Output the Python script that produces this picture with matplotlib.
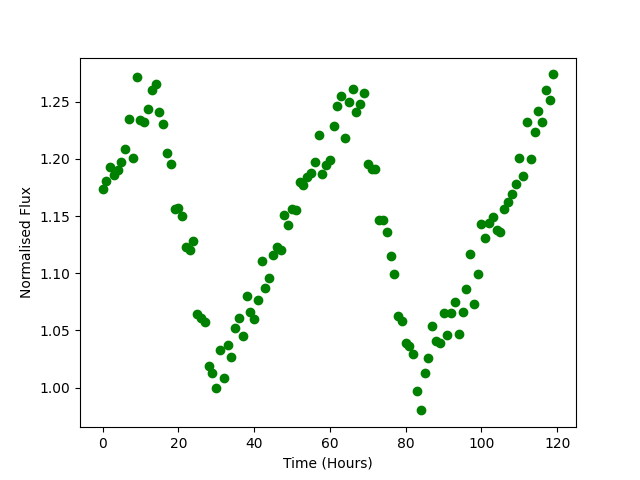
import matplotlib
matplotlib.use("Agg")
import matplotlib.pyplot as plt
import numpy as np

time_hours = list(range(120))
flux = [1.174, 1.181, 1.193, 1.186, 1.190, 1.197, 1.209, 1.235, 1.201, 1.272,
        1.234, 1.232, 1.244, 1.260, 1.266, 1.241, 1.231, 1.205, 1.196, 1.156,
        1.157, 1.150, 1.123, 1.120, 1.128, 1.064, 1.061, 1.057, 1.019, 1.013,
        1.000, 1.033, 1.008, 1.037, 1.027, 1.052, 1.061, 1.045, 1.080, 1.066,
        1.060, 1.077, 1.111, 1.087, 1.096, 1.116, 1.123, 1.120, 1.151, 1.142,
        1.156, 1.155, 1.180, 1.177, 1.184, 1.188, 1.197, 1.221, 1.187, 1.195,
        1.199, 1.229, 1.246, 1.255, 1.218, 1.250, 1.261, 1.241, 1.248, 1.258,
        1.196, 1.191, 1.191, 1.147, 1.147, 1.136, 1.115, 1.099, 1.063, 1.058,
        1.039, 1.036, 1.029, 0.997, 0.980, 1.013, 1.026, 1.054, 1.041, 1.039,
        1.065, 1.046, 1.065, 1.075, 1.047, 1.066, 1.086, 1.117, 1.073, 1.099,
        1.143, 1.131, 1.144, 1.149, 1.138, 1.136, 1.156, 1.162, 1.169, 1.178,
        1.201, 1.185, 1.232, 1.200, 1.224, 1.242, 1.232, 1.260, 1.252, 1.274]

fig, ax = plt.subplots(figsize=(6.4, 4.8), dpi=100)
ax.plot(time_hours, flux, 'go')
ax.set_xlabel('Time (Hours)')
ax.set_ylabel('Normalised Flux')
fig.savefig('out.png')
